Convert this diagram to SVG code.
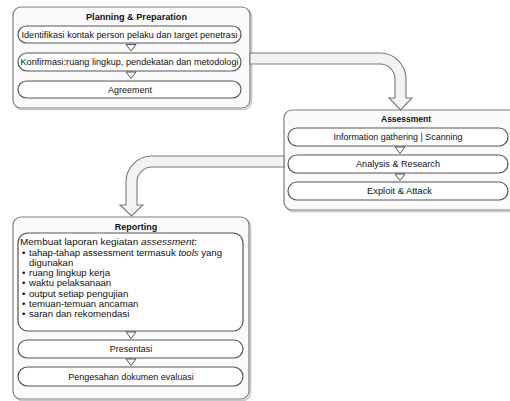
<svg xmlns="http://www.w3.org/2000/svg" width="510" height="401" viewBox="0 0 510 401">
<style>
.outer{fill:#fafafa;stroke:#7f7f7f;stroke-width:1.2}
.shadow{fill:none;stroke:#c8c8c8;stroke-width:1.5}
.inner{fill:#ffffff;stroke:#555555;stroke-width:1.2}
.tri{fill:#ffffff;stroke:#555555;stroke-width:1}
.arrow{fill:#f3f3f3;stroke:#7a7a7a;stroke-width:1.1;stroke-linejoin:miter}
text{font-family:"Liberation Sans",Arial,sans-serif;fill:#111111}
.title{font-size:9px;font-weight:bold;text-anchor:middle}
.row{font-size:9px;text-anchor:middle}
.body{font-size:9.6px}
</style>
<rect width="510" height="401" fill="#ffffff"/>
<g id="planning">
  <rect class="shadow" x="14.5" y="8.5" width="237" height="101" rx="8"/>
  <rect class="outer" x="13" y="7" width="237" height="101" rx="8"/>
  <text class="title" x="136.5" y="19.5" textLength="101" lengthAdjust="spacingAndGlyphs">Planning &amp; Preparation</text>
  <rect class="inner" x="18" y="26" width="223" height="17" rx="8.5"/>
  <text class="row" x="129.5" y="37.7" textLength="216" lengthAdjust="spacingAndGlyphs">Identifikasi kontak person pelaku dan target penetrasi</text>
  <rect class="inner" x="18" y="53" width="223" height="18" rx="9"/>
  <text class="row" x="129.5" y="65.2" textLength="218" lengthAdjust="spacingAndGlyphs">Konfirmasi:ruang lingkup, pendekatan dan metodologi</text>
  <rect class="inner" x="18" y="81" width="223" height="17" rx="8.5"/>
  <text class="row" x="130" y="92.7">Agreement</text>
</g>
<g id="assessment">
  <rect class="shadow" x="285.5" y="111.5" width="240" height="100" rx="8"/>
  <rect class="outer" x="284" y="110" width="240" height="100" rx="8"/>
  <text class="title" x="406" y="121.5" textLength="50" lengthAdjust="spacingAndGlyphs">Assessment</text>
  <rect class="inner" x="288" y="128" width="220" height="18" rx="9"/>
  <text class="row" x="398" y="140.2" textLength="129" lengthAdjust="spacingAndGlyphs">Information gathering | Scanning</text>
  <rect class="inner" x="288" y="155" width="220" height="18" rx="9"/>
  <text class="row" x="398" y="167.2" textLength="84" lengthAdjust="spacingAndGlyphs">Analysis &amp; Research</text>
  <rect class="inner" x="288" y="182" width="220" height="18" rx="9"/>
  <text class="row" x="399.5" y="194.2" textLength="65" lengthAdjust="spacingAndGlyphs">Exploit &amp; Attack</text>
</g>
<g id="reporting">
  <rect class="shadow" x="14.5" y="218.5" width="236" height="182" rx="8"/>
  <rect class="outer" x="13" y="217" width="236" height="182" rx="8"/>
  <text class="title" x="136" y="229.5">Reporting</text>
  <rect class="inner" x="18" y="233" width="225" height="98" rx="10"/>
  <text class="body" x="20" y="245.3" textLength="177" lengthAdjust="spacingAndGlyphs">Membuat laporan kegiatan <tspan font-style="italic">assessment</tspan>:</text>
  <text class="body" x="22" y="255.6">•</text>
  <text class="body" x="29" y="255.6" font-size="9" textLength="193" lengthAdjust="spacingAndGlyphs">tahap-tahap assessment termasuk <tspan font-style="italic">tools</tspan> yang</text>
  <text class="body" x="29" y="265.7">digunakan</text>
  <text class="body" x="22" y="276">•</text>
  <text class="body" x="29" y="276">ruang lingkup kerja</text>
  <text class="body" x="22" y="286.3">•</text>
  <text class="body" x="29" y="286.3">waktu pelaksanaan</text>
  <text class="body" x="22" y="296.5">•</text>
  <text class="body" x="29" y="296.5">output setiap pengujian</text>
  <text class="body" x="22" y="306.7">•</text>
  <text class="body" x="29" y="306.7">temuan-temuan ancaman</text>
  <text class="body" x="22" y="316.8">•</text>
  <text class="body" x="29" y="316.8" font-size="8.6">saran dan rekomendasi</text>
  <rect class="inner" x="18" y="340" width="225" height="18" rx="9"/>
  <text class="row" x="131" y="352.2">Presentasi</text>
  <rect class="inner" x="18" y="367" width="225" height="19" rx="9.5"/>
  <text class="row" x="131" y="379.7">Pengesahan dokumen evaluasi</text>
</g>
<g id="connectors">
  <path class="arrow" d="M250,53 H380 A26,26 0 0 1 406,79 V98 H412 L400.5,110 L389,98 H395 V79 A15,15 0 0 0 380,64 H250 Z"/>
  <path class="arrow" d="M284,156 H152 A26,26 0 0 0 126,182 V205 H120 L131.5,216 L143,205 H137 V182 A15,15 0 0 1 152,167 H284 Z"/>
  <polygon class="tri" points="126,44.5 136,44.5 131,51"/>
  <polygon class="tri" points="126,72 136,72 131,78.5"/>
  <polygon class="tri" points="395,147 405,147 400,153.5"/>
  <polygon class="tri" points="395,174 405,174 400,180.5"/>
  <polygon class="tri" points="126,332 136,332 131,338.5"/>
  <polygon class="tri" points="126,359 136,359 131,365.5"/>
</g>
</svg>
